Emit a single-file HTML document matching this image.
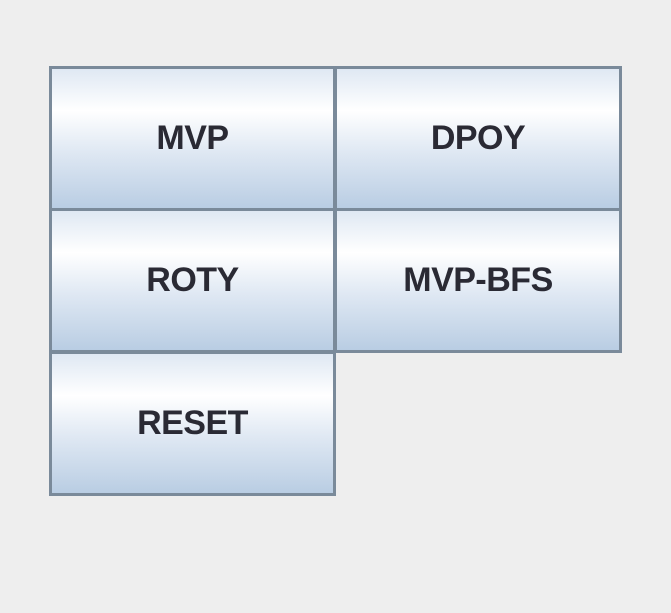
<!DOCTYPE html>
<html><head><style>
body{margin:0;width:671px;height:613px;background:#eeeeee;position:relative;overflow:hidden}
.b{position:absolute;box-sizing:border-box;border:3px solid #7a8a9a;
background:linear-gradient(to bottom,#dfe8f3 0%,#ffffff 30%,#dfe8f3 60%,#b9cde3 100%);
display:flex;align-items:center;justify-content:center;
font-family:"Liberation Sans",sans-serif;font-weight:bold;font-size:34px;color:#2a2a34;letter-spacing:-0.5px}
</style></head><body>
<div class="b" style="left:49px;top:66px;width:287px;height:145px">MVP</div>
<div class="b" style="left:334px;top:66px;width:288px;height:145px">DPOY</div>
<div class="b" style="left:49px;top:208px;width:287px;height:145px">ROTY</div>
<div class="b" style="left:334px;top:208px;width:288px;height:145px">MVP-BFS</div>
<div class="b" style="left:49px;top:351px;width:287px;height:145px">RESET</div>
</body></html>
